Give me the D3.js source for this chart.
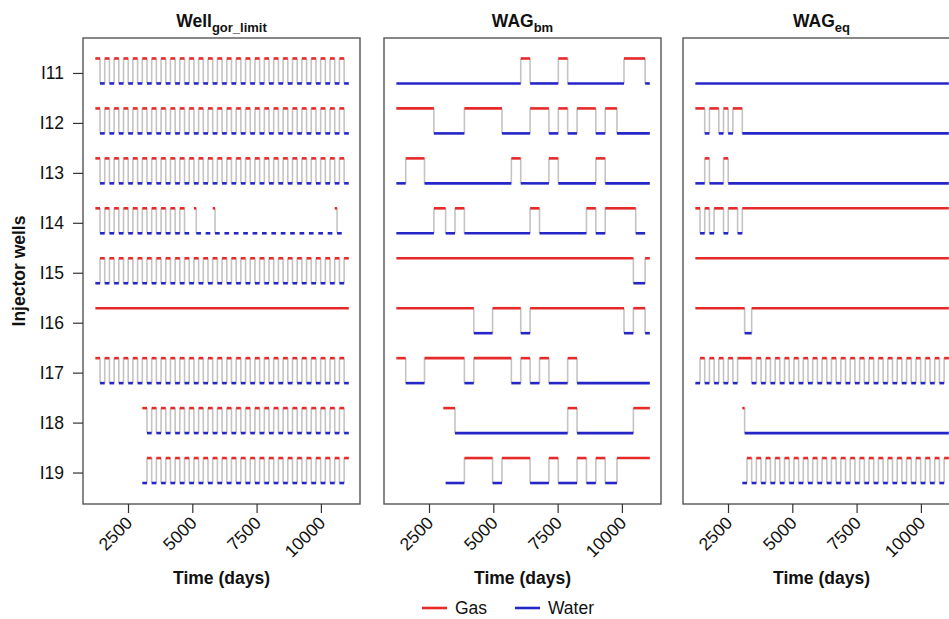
<!DOCTYPE html>
<html>
<head>
<meta charset="utf-8">
<script src="https://cdn.jsdelivr.net/npm/d3@7"></script>
<style>
  body { margin: 0; background: #fff; }
  text { font-family: "Liberation Sans", Arial, sans-serif; fill: #111; }
</style>
</head>
<body>
<svg id="chart"></svg>
<script>
// wells on the y axis, top to bottom
var wells = ["I11", "I12", "I13", "I14", "I15", "I16", "I17", "I18", "I19"];
var panelTitles = [["Well", "gor_limit"], ["WAG", "bm"], ["WAG", "eq"]];
var xTicks = [2500, 5000, 7500, 10000];

// schedule: one char per quarter, one group of 4 per year
// g = gas, w = water, . = no injection
var startDay = 1230;
var quarterDays = 91.25;

var wellGorLimit = [
  "ggww ggww ggww ggww ggww ggww ggww ggww ggww ggww ggww ggww ggww ggww ggww ggww ggww ggww ggww ggww ggww ggww ggww ggww ggww ggww ggww",
  "ggww ggww ggww ggww ggww ggww ggww ggww ggww ggww ggww ggww ggww ggww ggww ggww ggww ggww ggww ggww ggww ggww ggww ggww ggww ggww ggww",
  "ggww ggww ggww ggww ggww ggww ggww ggww ggww ggww ggww ggww ggww ggww ggww ggww ggww ggww ggww ggww ggww ggww ggww ggww ggww ggww ggww",
  "ggww ggww ggww ggww ggww ggww ggww ggww ggww ggww ..gw w..w w.gw w..w w..w w..w w..w w..w w..w w..w w..w w..w w..w w..w w..w w.gw w...",
  "wwgg wwgg wwgg wwgg wwgg wwgg wwgg wwgg wwgg wwgg wwgg wwgg wwgg wwgg wwgg wwgg wwgg wwgg wwgg wwgg wwgg wwgg wwgg wwgg wwgg wwgg wwgg",
  "gggg gggg gggg gggg gggg gggg gggg gggg gggg gggg gggg gggg gggg gggg gggg gggg gggg gggg gggg gggg gggg gggg gggg gggg gggg gggg gggg",
  "ggww ggww ggww ggww ggww ggww ggww ggww ggww ggww ggww ggww ggww ggww ggww ggww ggww ggww ggww ggww ggww ggww ggww ggww ggww ggww ggww",
  ".... .... .... .... .... ggww ggww ggww ggww ggww ggww ggww ggww ggww ggww ggww ggww ggww ggww ggww ggww ggww ggww ggww ggww ggww ggww",
  ".... .... .... .... .... wwgg wwgg wwgg wwgg wwgg wwgg wwgg wwgg wwgg wwgg wwgg wwgg wwgg wwgg wwgg wwgg wwgg wwgg wwgg wwgg wwgg wwgg"
];

var wagBm = [
  "wwww wwww wwww wwww wwww wwww wwww wwww wwww wwww wwww wwww wwww wggg gwww wwww wwww wggg gwww wwww wwww wwww wwww wwww wggg gggg ggww",
  "gggg gggg gggg gggg wwww wwww wwww wggg gggg gggg gggg gwww wwww wwww wggg gggg gwww wggg gwww wggg gggg gwww wggg ggww wwww wwww wwww",
  "wwww gggg gggg wwww wwww wwww wwww wwww wwww wwww wwww wwww wggg gwww wwww wwww wggg gwww wwww wwww wwww wggg gwww wwww wwww wwww wwww",
  "wwww wwww wwww wwww gggg gwww wggg gwww wwww wwww wwww wwww wwww wwww wggg gwww wwww wwww wwww wwww wggg gwww wggg gggg gggg ggww ww..",
  "gggg gggg gggg gggg gggg gggg gggg gggg gggg gggg gggg gggg gggg gggg gggg gggg gggg gggg gggg gggg gggg gggg gggg gggg gggg gwww wwgg",
  "gggg gggg gggg gggg gggg gggg gggg gggg gwww wwww wggg gggg gggg gwww wggg gggg gggg gggg gggg gggg gggg gggg gggg gggg gwww wggg ggww",
  "gggg wwww wwww gggg gggg gggg gggg gwww wggg gggg gggg gggg gwww wggg gwww wggg gwww wwww wggg gwww wwww wwww wwww wwww wwww wwww wwww",
  ".... .... .... .... .... gggg gwww wwww wwww wwww wwww wwww wwww wwww wwww wwww wwww wwww wggg gwww wwww wwww wwww wwww wwww wggg gggg",
  ".... .... .... .... .... .www wwww wggg gggg gggg gwww wggg gggg gggg gwww wwww wggg gwww wwww wggg gwww wggg gwww wwgg gggg gggg gggg"
];

var wagEq = [
  "wwww wwww wwww wwww wwww wwww wwww wwww wwww wwww wwww wwww wwww wwww wwww wwww wwww wwww wwww wwww wwww wwww wwww wwww wwww wwww wwww",
  "gggg wwgg ggww ggww gggg wwww wwww wwww wwww wwww wwww wwww wwww wwww wwww wwww wwww wwww wwww wwww wwww wwww wwww wwww wwww wwww wwww",
  "wwww ggww wwww ggww wwww wwww wwww wwww wwww wwww wwww wwww wwww wwww wwww wwww wwww wwww wwww wwww wwww wwww wwww wwww wwww wwww wwww",
  "ggww ggww gggg wwgg ggww gggg gggg gggg gggg gggg gggg gggg gggg gggg gggg gggg gggg gggg gggg gggg gggg gggg gggg gggg gggg gggg gggg",
  "gggg gggg gggg gggg gggg gggg gggg gggg gggg gggg gggg gggg gggg gggg gggg gggg gggg gggg gggg gggg gggg gggg gggg gggg gggg gggg gggg",
  "gggg gggg gggg gggg gggg gwww gggg gggg gggg gggg gggg gggg gggg gggg gggg gggg gggg gggg gggg gggg gggg gggg gggg gggg gggg gggg gggg",
  "wwgg wwgg wwgg wwgg wwgg gggg wwgg wwgg wwgg wwgg wwgg wwgg wwgg wwgg wwgg wwgg wwgg wwgg wwgg wwgg wwgg wwgg wwgg wwgg wwgg wwgg wwgg",
  ".... .... .... .... .... gwww wwww wwww wwww wwww wwww wwww wwww wwww wwww wwww wwww wwww wwww wwww wwww wwww wwww wwww wwww wwww wwww",
  ".... .... .... .... .... wwgg wwgg wwgg wwgg wwgg wwgg wwgg wwgg wwgg wwgg wwgg wwgg wwgg wwgg wwgg wwgg wwgg wwgg wwgg wwgg wwgg wwgg"
];

var panels = [wellGorLimit, wagBm, wagEq];
var legendItems = [["Gas", "#e62a2a"], ["Water", "#2626c8"]];

var svgWidth = 949;
var svgHeight = 619;
var panelLeft = [83, 384, 683];
var panelWidth = 277;
var panelTop = 38;
var panelHeight = 466;

var colors = { g: "#e62a2a", w: "#2626c8" };
var levelOffset = { g: -0.29, w: 0.21 };

var svg = d3.select("#chart")
  .attr("width", svgWidth)
  .attr("height", svgHeight);

var x = d3.scaleLinear().domain([750, 11520]).range([0, panelWidth]);
var y = d3.scaleLinear().domain([-0.7, 8.63]).range([0, panelHeight]);

function quarterToDay(q) {
  return startDay + q * quarterDays;
}

// turn a schedule string into runs of equal state
function toRuns(s) {
  var chars = s.replace(/ /g, "").split("");
  var runs = [];
  chars.forEach(function(c, q) {
    var last = runs[runs.length - 1];
    if (last && last.state === c) last.end = q + 1;
    else runs.push({ state: c, start: q, end: q + 1 });
  });
  return runs;
}

panels.forEach(function(series, p) {
  var g = svg.append("g")
    .attr("transform", `translate(${panelLeft[p]}, ${panelTop})`);

  series.forEach(function(s, i) {
    var runs = toRuns(s);

    // grey connectors where gas and water switch
    var switches = [];
    for (var k = 1; k < runs.length; k++) {
      var a = runs[k - 1].state, b = runs[k].state;
      if (a !== "." && b !== "." && a !== b) switches.push(runs[k].start);
    }
    g.selectAll(null)
      .data(switches)
      .enter()
      .append("line")
      .attr("x1", d => x(quarterToDay(d)))
      .attr("x2", d => x(quarterToDay(d)))
      .attr("y1", y(i + levelOffset.g))
      .attr("y2", y(i + levelOffset.w))
      .attr("stroke", "#c4c4c4")
      .attr("stroke-width", 1.6);

    g.selectAll(null)
      .data(runs.filter(r => r.state !== "."))
      .enter()
      .append("line")
      .attr("x1", d => x(quarterToDay(d.start)))
      .attr("x2", d => x(quarterToDay(d.end)))
      .attr("y1", d => y(i + levelOffset[d.state]))
      .attr("y2", d => y(i + levelOffset[d.state]))
      .attr("stroke", d => colors[d.state])
      .attr("stroke-width", 2.6);
  });

  // frame
  g.append("rect")
    .attr("width", panelWidth)
    .attr("height", panelHeight)
    .attr("fill", "none")
    .attr("stroke", "#555")
    .attr("stroke-width", 1.4);

  // x axis
  var xAxis = g.append("g")
    .attr("transform", `translate(0, ${panelHeight})`)
    .call(d3.axisBottom(x).tickValues(xTicks).tickFormat(d3.format("d"))
      .tickSize(9).tickSizeOuter(0));
  xAxis.select(".domain").remove();
  xAxis.selectAll(".tick line").attr("stroke", "#333").attr("stroke-width", 1.2);
  xAxis.selectAll(".tick text")
    .attr("y", 0)
    .attr("dy", 0)
    .attr("transform", "translate(5, 20) rotate(-45)")
    .attr("text-anchor", "end")
    .style("font-size", "17.5px")
    .style("font-family", "Liberation Sans, Arial, sans-serif")
    .attr("fill", "#111");

  // title with subscript
  var title = g.append("text")
    .attr("x", panelWidth / 2)
    .attr("y", -11)
    .attr("text-anchor", "middle")
    .style("font-weight", "bold")
    .style("font-size", "17.5px");
  title.append("tspan").text(panelTitles[p][0]);
  title.append("tspan").attr("dy", 5).style("font-size", "13px").text(panelTitles[p][1]);

  g.append("text")
    .attr("x", panelWidth / 2)
    .attr("y", panelHeight + 80)
    .attr("text-anchor", "middle")
    .style("font-weight", "bold")
    .style("font-size", "17.5px")
    .text("Time (days)");

  if (p === 0) {
    var yAxis = g.append("g")
      .call(d3.axisLeft(y).tickValues(d3.range(wells.length))
        .tickFormat(i => wells[i]).tickSize(10).tickPadding(9));
    yAxis.select(".domain").remove();
    yAxis.selectAll(".tick line").attr("stroke", "#333").attr("stroke-width", 1.2);
    yAxis.selectAll(".tick text")
      .style("font-size", "17.5px")
      .style("font-family", "Liberation Sans, Arial, sans-serif")
      .attr("fill", "#111");

    g.append("text")
      .attr("transform", `translate(-58, ${panelHeight / 2}) rotate(-90)`)
      .attr("text-anchor", "middle")
      .style("font-weight", "bold")
      .style("font-size", "17.5px")
      .text("Injector wells");
  }
});

// legend
var legend = svg.append("g").attr("transform", "translate(422, 608)");
var legendX = [0, 93];
legendItems.forEach(function(item, k) {
  legend.append("line")
    .attr("x1", legendX[k]).attr("x2", legendX[k] + 25)
    .attr("stroke", item[1]).attr("stroke-width", 2.6);
  legend.append("text")
    .attr("x", legendX[k] + 33)
    .attr("y", 6)
    .style("font-size", "17.5px")
    .text(item[0]);
});
</script>
</body>
</html>
